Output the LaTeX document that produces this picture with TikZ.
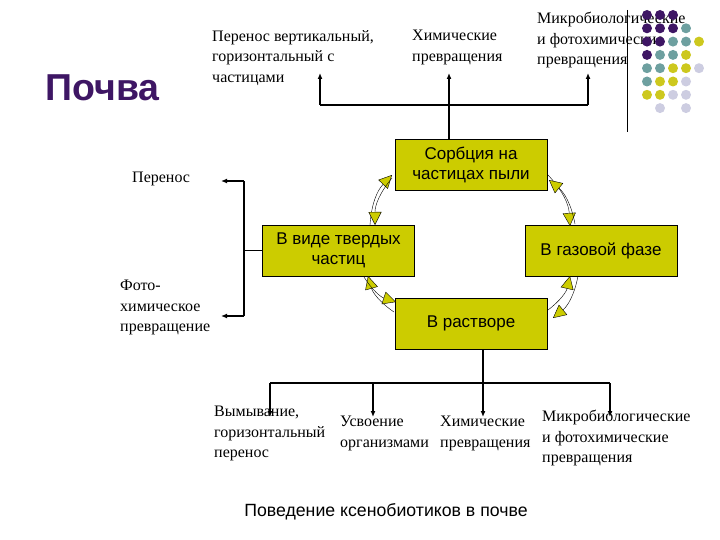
\documentclass[tikz,border=0pt]{standalone}
\usepackage{fontspec}
\setmainfont{Liberation Serif}
\newfontfamily\sansf{Liberation Sans}
\usetikzlibrary{arrows.meta}
\definecolor{boxy}{RGB}{204,204,0}
\definecolor{dpur}{RGB}{62,22,100}
\definecolor{dteal}{RGB}{110,160,160}
\definecolor{dlil}{RGB}{205,205,225}
\definecolor{dyel}{RGB}{205,200,30}
\tikzset{
  box/.style={draw=black,fill=boxy,minimum width=152pt,minimum height=51pt,align=center,font=\sansf\fontsize{17}{20}\selectfont,inner sep=2pt},
  lbl/.style={align=left,font=\fontsize{16}{20.5}\selectfont,inner sep=0pt,anchor=north west},
  con/.style={line width=1.2pt,-{Latex[length=6pt,width=5pt]}},
  lin/.style={line width=1.2pt},
  cyc/.style={line width=0.4pt,-{Triangle[length=13pt,width=13pt,fill=boxy]}},
  dot/.style={circle,inner sep=0pt,minimum size=10pt}
}
\begin{document}
\begin{tikzpicture}[x=1pt,y=-1pt]
\useasboundingbox (0,0) rectangle (720,540);
\node[font=\sansf\bfseries\fontsize{37.5}{40}\selectfont,text=dpur,anchor=west] (pochva) at (42,88) {Почва};
% top labels
\node[lbl] (t1) at (212,30) {Перенос вертикальный,\\горизонтальный с\\частицами};
\node[lbl] (t2) at (412,30) {Химические\\превращения};
\node[lbl] (t3) at (537,12) {Микробиологические\\и фотохимические\\превращения};
% dots
\foreach \c/\x/\y in {dpur/0/0,dpur/1/0,dpur/2/0,dpur/0/1,dpur/1/1,dpur/2/1,dteal/3/1,dpur/0/2,dpur/1/2,dteal/2/2,dteal/3/2,dyel/4/2,dpur/0/3,dteal/1/3,dteal/2/3,dyel/3/3,dteal/0/4,dteal/1/4,dyel/2/4,dyel/3/4,dlil/4/4,dteal/0/5,dyel/1/5,dyel/2/5,dlil/3/5,dyel/0/6,dyel/1/6,dlil/2/6,dlil/3/6,dlil/1/7,dlil/3/7}
  \node[dot,fill=\c] (d\x\y) at (647+13*\x,15+13.3*\y) {};
\draw[line width=0.8pt] (627,10) -- (627,132);
% boxes
\node[box] (s) at (471,164.5) {Сорбция на\\частицах пыли};
\node[box] (tv) at (338.5,250.5) {В виде твердых\\частиц};
\node[box] (g) at (601,250.5) {В газовой фазе};
\node[box] (r) at (471,323.5) {В растворе};
% top connectors
\coordinate (h1) at (320,105);
\coordinate (h2) at (588,105);
\draw[lin] (h1) -- (h2);
\draw[con] (h1) -- (320,73);
\draw[con] (h2) -- (588,73);
\draw[con] (s.north -| 449,0) -- (449,73);
% left connectors
\node[lbl] (per) at (132,172) {Перенос};
\node[lbl] (foto) at (120,280) {Фото-\\химическое\\превращение};
\coordinate (l1) at (244,181);
\coordinate (l2) at (244,316);
\draw[lin] (tv.west) -- (244,250.5);
\draw[lin] (l1) -- (l2);
\draw[con] (l1) -- (221,181);
\draw[con] (l2) -- (221,316);
% bottom connectors
\coordinate (b1) at (270,383);
\coordinate (b4) at (610,383);
\draw[lin] (b1) -- (b4);
\draw[con] (r.south -| 483,0) -- (483,417);
\draw[con] (b1) -- (270,417);
\draw[con] (373,383) -- (373,417);
\draw[con] (b4) -- (610,417);
\node[lbl] (w1) at (214,406) {Вымывание,\\горизонтальный\\перенос};
\node[lbl] (w2) at (340,416) {Усвоение\\организмами};
\node[lbl] (w3) at (440,416) {Химические\\превращения};
\node[lbl] (w4) at (542,410) {Микробиологические\\и фотохимические\\превращения};
\node[font=\sansf\fontsize{17.7}{20}\selectfont] (cap) at (386,512) {Поведение ксенобиотиков в почве};
% cycle arrows
\draw[cyc] (370,225) to[bend left=20] (392,175);
\draw[cyc] (392,178) to[bend right=20] (375,225) ;
\draw[cyc] (548,175) to[bend right=-20] (570,226);
\draw[cyc] (575,224) to[bend right=20] (549,180);
\draw[cyc] (578,276) to[bend left=20] (553,318);
\draw[cyc] (548,310) to[bend right=20] (570,276);
\draw[cyc] (394,312) to[bend left=20] (368,276);
\draw[cyc] (364,277) to[bend right=20] (396,302);
\end{tikzpicture}
\end{document}
